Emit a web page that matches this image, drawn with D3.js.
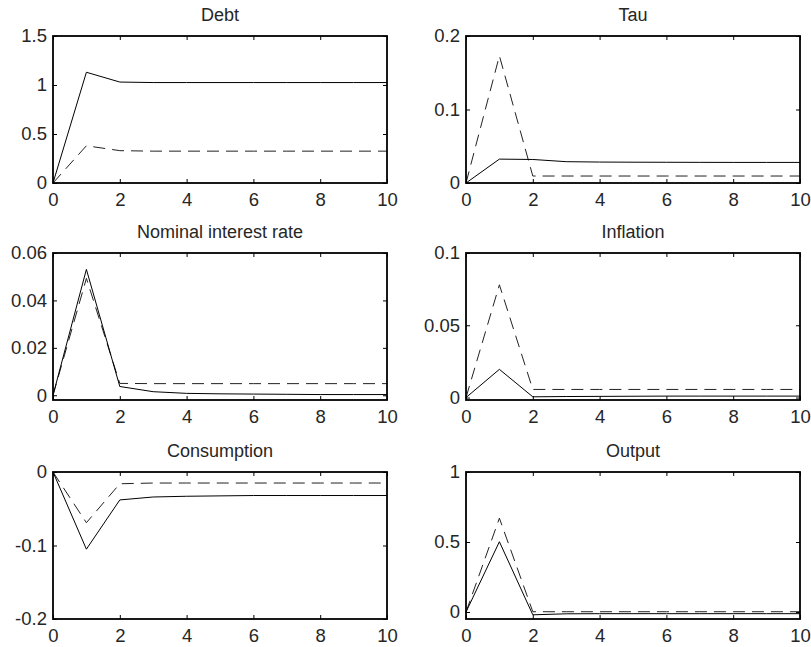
<!DOCTYPE html>
<html>
<head>
<meta charset="utf-8">
<script src="https://cdn.jsdelivr.net/npm/d3@7"></script>
<style>
  body { margin: 0; background: #fff; }
  svg { display: block; font-family: "Liberation Sans", Arial, sans-serif; }
</style>
</head>
<body>
<svg width="811" height="647"></svg>
<script>
// periods 0..10
const periods = [0, 1, 2, 3, 4, 5, 6, 7, 8, 9, 10]
const xTicks = [0, 2, 4, 6, 8, 10]

const titles = ["Debt", "Tau", "Nominal interest rate", "Inflation", "Consumption", "Output"]

// solid line
const debtSolid = [0, 1.13, 1.03, 1.025, 1.025, 1.025, 1.025, 1.025, 1.025, 1.025, 1.025]
const tauSolid = [0, 0.0325, 0.032, 0.029, 0.0285, 0.0283, 0.0282, 0.0281, 0.028, 0.028, 0.028]
const rateSolid = [0, 0.0531, 0.0037, 0.0015, 0.0008, 0.0006, 0.0005, 0.0004, 0.0003, 0.0003, 0.0003]
const inflSolid = [0, 0.0195, 0.0005, 0.0007, 0.0008, 0.0009, 0.001, 0.001, 0.001, 0.001, 0.001]
const consSolid = [0, -0.105, -0.038, -0.034, -0.033, -0.0325, -0.032, -0.032, -0.032, -0.032, -0.032]
const outSolid = [0, 0.502, -0.02, -0.013, -0.012, -0.012, -0.012, -0.012, -0.012, -0.012, -0.012]

// dashed line
const debtDashed = [0, 0.38, 0.33, 0.325, 0.325, 0.325, 0.325, 0.325, 0.325, 0.325, 0.325]
const tauDashed = [0, 0.173, 0.0095, 0.0095, 0.0095, 0.0095, 0.0095, 0.0095, 0.0095, 0.0095, 0.0095]
const rateDashed = [0, 0.0493, 0.005, 0.0049, 0.0049, 0.0049, 0.0049, 0.0049, 0.0049, 0.0049, 0.0049]
const inflDashed = [0, 0.078, 0.0056, 0.0056, 0.0056, 0.0056, 0.0056, 0.0056, 0.0056, 0.0056, 0.0056]
const consDashed = [0, -0.069, -0.016, -0.015, -0.015, -0.015, -0.015, -0.015, -0.015, -0.015, -0.015]
const outDashed = [0, 0.67, 0.002, 0.002, 0.002, 0.002, 0.002, 0.002, 0.002, 0.002, 0.002]

// y axes
const yDomains = [[0, 1.5], [0, 0.2], [-0.002, 0.06], [-0.0017, 0.1], [-0.2, 0], [-0.05, 1]]
const yTicks = [
  [0, 0.5, 1, 1.5],
  [0, 0.1, 0.2],
  [0, 0.02, 0.04, 0.06],
  [0, 0.05, 0.1],
  [-0.2, -0.1, 0],
  [0, 0.5, 1],
]

const solidSeries = [debtSolid, tauSolid, rateSolid, inflSolid, consSolid, outSolid]
const dashedSeries = [debtDashed, tauDashed, rateDashed, inflDashed, consDashed, outDashed]

const svg = d3.select("svg")
const colLeft = [53, 466]
const rowTop = [36, 253, 472]
const plotW = 334
const plotH = 147

titles.forEach((title, i) => {
  const col = i % 2
  const row = Math.floor(i / 2)
  const g = svg.append("g")
    .attr("transform", `translate(${colLeft[col]},${rowTop[row]})`)

  const x = d3.scaleLinear().domain([0, 10]).range([0, plotW])
  const y = d3.scaleLinear().domain(yDomains[i]).range([plotH, 0])

  const fmt = (d) => String(+d.toFixed(4))

  // axes with inward ticks on all four sides
  g.append("g")
    .attr("transform", `translate(0,${plotH})`)
    .call(d3.axisBottom(x).tickValues(xTicks).tickSize(-4).tickPadding(10).tickFormat(fmt))
  g.append("g")
    .call(d3.axisTop(x).tickValues(xTicks).tickSize(-4).tickFormat(""))
  g.append("g")
    .call(d3.axisLeft(y).tickValues(yTicks[i]).tickSize(-4).tickPadding(6).tickFormat(fmt))
  g.append("g")
    .attr("transform", `translate(${plotW},0)`)
    .call(d3.axisRight(y).tickValues(yTicks[i]).tickSize(-4).tickFormat(""))

  g.selectAll(".domain").remove()
  g.selectAll(".tick line").attr("stroke", "#000").attr("stroke-width", 1)
  g.selectAll(".tick text").attr("font-size", 18.5).attr("fill", "#262626").attr("font-family", null)

  const line = d3.line()
    .x((d, j) => x(periods[j]))
    .y((d) => y(d))

  g.append("path")
    .datum(dashedSeries[i])
    .attr("fill", "none")
    .attr("stroke", "#222")
    .attr("stroke-width", 1)
    .attr("stroke-dasharray", "12,7")
    .attr("d", line)

  g.append("path")
    .datum(solidSeries[i])
    .attr("fill", "none")
    .attr("stroke", "#000")
    .attr("stroke-width", 1)
    .attr("d", line)

  g.append("rect")
    .attr("width", plotW)
    .attr("height", plotH)
    .attr("fill", "none")
    .attr("stroke", "#000")
    .attr("stroke-width", 1.8)

  g.append("text")
    .attr("x", plotW / 2)
    .attr("y", -15)
    .attr("text-anchor", "middle")
    .attr("font-size", 18)
    .attr("fill", "#262626")
    .text(title)
})
</script>
</body>
</html>
